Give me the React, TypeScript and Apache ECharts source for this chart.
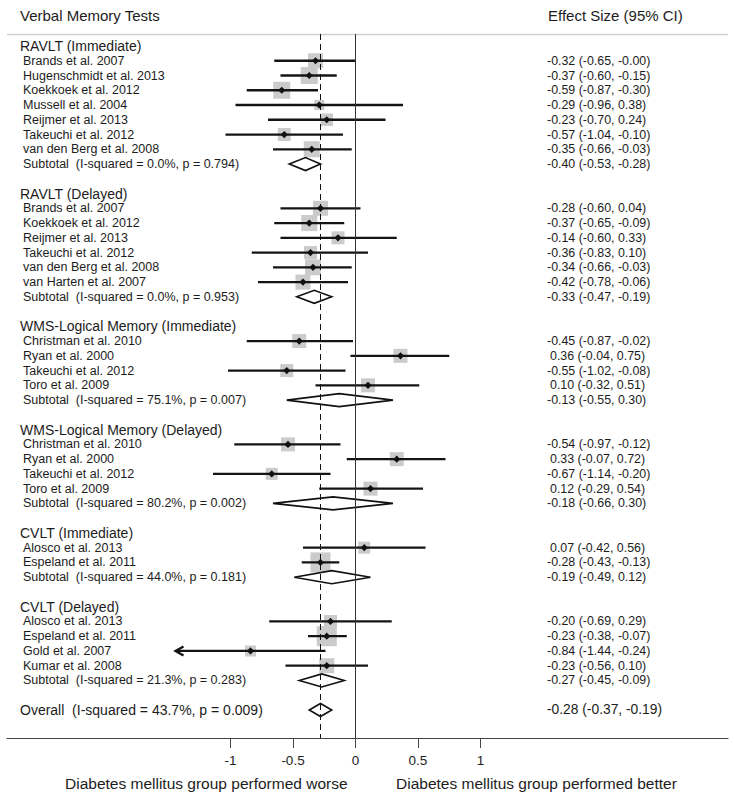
import React, { useEffect, useRef } from "react";
import * as echarts from "echarts";

const columnTitle = "Verbal Memory Tests";
const effectTitle = "Effect Size (95% CI)";
const worseLabel = "Diabetes mellitus group performed worse";
const betterLabel = "Diabetes mellitus group performed better";

const sectionNames = [
  "RAVLT (Immediate)",
  "RAVLT (Delayed)",
  "WMS-Logical Memory (Immediate)",
  "WMS-Logical Memory (Delayed)",
  "CVLT (Immediate)",
  "CVLT (Delayed)",
];

const studyNames: string[][] = [
  ["Brands et al. 2007", "Hugenschmidt et al. 2013", "Koekkoek et al. 2012", "Mussell et al. 2004", "Reijmer et al. 2013", "Takeuchi et al. 2012", "van den Berg et al. 2008"],
  ["Brands et al. 2007", "Koekkoek et al. 2012", "Reijmer et al. 2013", "Takeuchi et al. 2012", "van den Berg et al. 2008", "van Harten et al. 2007"],
  ["Christman et al. 2010", "Ryan et al. 2000", "Takeuchi et al. 2012", "Toro et al. 2009"],
  ["Christman et al. 2010", "Ryan et al. 2000", "Takeuchi et al. 2012", "Toro et al. 2009"],
  ["Alosco et al. 2013", "Espeland et al. 2011"],
  ["Alosco et al. 2013", "Espeland et al. 2011", "Gold et al. 2007", "Kumar et al. 2008"],
];

const studyEstimates: number[][] = [
  [-0.32, -0.37, -0.59, -0.29, -0.23, -0.57, -0.35],
  [-0.28, -0.37, -0.14, -0.36, -0.34, -0.42],
  [-0.45, 0.36, -0.55, 0.10],
  [-0.54, 0.33, -0.67, 0.12],
  [0.07, -0.28],
  [-0.20, -0.23, -0.84, -0.23],
];

const studyLower: number[][] = [
  [-0.65, -0.60, -0.87, -0.96, -0.70, -1.04, -0.66],
  [-0.60, -0.65, -0.60, -0.83, -0.66, -0.78],
  [-0.87, -0.04, -1.02, -0.32],
  [-0.97, -0.07, -1.14, -0.29],
  [-0.42, -0.43],
  [-0.69, -0.38, -1.44, -0.56],
];

const studyUpper: number[][] = [
  [-0.004, -0.15, -0.30, 0.38, 0.24, -0.10, -0.03],
  [0.04, -0.09, 0.33, 0.10, -0.03, -0.06],
  [-0.02, 0.75, -0.08, 0.51],
  [-0.12, 0.72, -0.20, 0.54],
  [0.56, -0.13],
  [0.29, -0.07, -0.24, 0.10],
];

// relative study weights (%)
const studyWeights: number[][] = [
  [18.4, 23.6, 23.6, 8.2, 12.8, 13.8, 20.9],
  [18.4, 20.9, 13.8, 13.8, 20.9, 18.4],
  [16.0, 16.0, 13.8, 16.0],
  [16.0, 16.0, 11.8, 16.0],
  [11.8, 32.7],
  [13.8, 32.7, 9.9, 18.4],
];

const subtotalEstimates = [-0.40, -0.33, -0.13, -0.18, -0.19, -0.27];
const subtotalLower = [-0.53, -0.47, -0.55, -0.66, -0.49, -0.45];
const subtotalUpper = [-0.28, -0.19, 0.30, 0.30, 0.12, -0.09];
const subtotalISquared = [0.0, 0.0, 75.1, 80.2, 44.0, 21.3];
const subtotalP = [0.794, 0.953, 0.007, 0.002, 0.181, 0.283];

const overallEstimate = -0.28;
const overallLower = -0.37;
const overallUpper = -0.19;
const overallISquared = 43.7;
const overallP = 0.009;

const tickValues = [-1, -0.5, 0, 0.5, 1];
const arrowLimit = -1.4;

type Row = {
  row: number;
  kind: "section" | "study" | "subtotal" | "overall";
  label: string;
  est?: number;
  lo?: number;
  hi?: number;
  w?: number;
};

const rows: Row[] = [];
(() => {
  let r = 0;
  sectionNames.forEach((name, s) => {
    rows.push({ row: r++, kind: "section", label: name });
    studyNames[s].forEach((n, i) => {
      rows.push({
        row: r++,
        kind: "study",
        label: n,
        est: studyEstimates[s][i],
        lo: studyLower[s][i],
        hi: studyUpper[s][i],
        w: studyWeights[s][i],
      });
    });
    rows.push({
      row: r++,
      kind: "subtotal",
      label: `Subtotal\u00a0\u00a0(I-squared = ${subtotalISquared[s].toFixed(1)}%, p = ${subtotalP[s].toFixed(3)})`,
      est: subtotalEstimates[s],
      lo: subtotalLower[s],
      hi: subtotalUpper[s],
    });
    r++;
  });
  rows.push({
    row: r,
    kind: "overall",
    label: `Overall\u00a0\u00a0(I-squared = ${overallISquared.toFixed(1)}%, p = ${overallP.toFixed(3)})`,
    est: overallEstimate,
    lo: overallLower,
    hi: overallUpper,
  });
})();

const FONT = '"Liberation Sans", Arial, Helvetica, sans-serif';
const TEXT = "#1c1c1c";
const fmt = (v: number) => v.toFixed(2);

export default function App() {
  const ref = useRef<HTMLDivElement>(null);

  useEffect(() => {
    if (!ref.current) return;
    const chart = echarts.init(ref.current, null, { renderer: "svg" });

    const studyRows = rows.filter((r) => r.kind === "study");
    const diamondRows = rows.filter((r) => r.kind === "subtotal" || r.kind === "overall");

    const option: any = {
      animation: false,
      backgroundColor: "#ffffff",
      grid: { left: 7, right: 6, top: 34, bottom: 60, containLabel: false },
      xAxis: {
        type: "value",
        min: -2.788,
        max: 2.98,
        splitLine: { show: false },
        axisLine: { show: true, onZero: false, lineStyle: { color: "#444", width: 1.2 } },
        axisTick: {
          show: true,
          customValues: tickValues,
          length: 10,
          lineStyle: { color: "#444", width: 1 },
        },
        axisLabel: {
          show: true,
          customValues: tickValues,
          margin: 15,
          color: TEXT,
          fontSize: 13.5,
          fontFamily: FONT,
          formatter: (v: number) => String(v),
        },
      },
      yAxis: {
        type: "value",
        min: -0.813,
        max: 46.9,
        inverse: true,
        show: false,
      },
      graphic: [
        {
          type: "line",
          shape: { x1: 7, y1: 34.5, x2: 728, y2: 34.5 },
          style: { stroke: "#cfcfcf", lineWidth: 1.5 },
          silent: true,
        },
        {
          type: "text",
          style: {
            text: columnTitle, x: 20, y: 15, font: `15px ${FONT}`, fill: TEXT,
            textAlign: "left", textVerticalAlign: "middle", verticalAlign: "middle",
          },
        },
        {
          type: "text",
          style: {
            text: effectTitle, x: 548, y: 15, font: `15px ${FONT}`, fill: TEXT,
            textAlign: "left", textVerticalAlign: "middle", verticalAlign: "middle",
          },
        },
        {
          type: "text",
          style: {
            text: worseLabel, x: 65, y: 783, font: `15.5px ${FONT}`, fill: TEXT,
            textAlign: "left", textVerticalAlign: "middle", verticalAlign: "middle",
          },
        },
        {
          type: "text",
          style: {
            text: betterLabel, x: 396, y: 783, font: `15.5px ${FONT}`, fill: TEXT,
            textAlign: "left", textVerticalAlign: "middle", verticalAlign: "middle",
          },
        },
      ],
      series: [
        {
          type: "custom",
          name: "studies",
          encode: { x: [0, 1, 2], y: 3 },
          data: studyRows.map((r) => [r.est, r.lo, r.hi, r.row, r.w]),
          renderItem: (params: any, api: any) => {
            const est = api.value(0);
            const lo = api.value(1);
            const hi = api.value(2);
            const row = api.value(3);
            const w = api.value(4);
            const pe = api.coord([est, row]);
            const pl = api.coord([lo, row]);
            const ph = api.coord([hi, row]);
            const y = pe[1];
            const side = 3.5 * Math.sqrt(w);
            const children: any[] = [
              {
                type: "rect",
                shape: { x: pe[0] - side / 2, y: y - side / 2, width: side, height: side },
                style: { fill: "#cbcbcb" },
              },
              {
                type: "line",
                shape: { x1: pl[0], y1: y, x2: ph[0], y2: y },
                style: { stroke: "#141414", lineWidth: 2.3 },
              },
              {
                type: "polygon",
                shape: {
                  points: [
                    [pe[0] - 3.6, y],
                    [pe[0], y - 3.6],
                    [pe[0] + 3.6, y],
                    [pe[0], y + 3.6],
                  ],
                },
                style: { fill: "#111" },
              },
            ];
            if (lo < arrowLimit) {
              children.push({
                type: "polyline",
                shape: {
                  points: [
                    [pl[0] + 8, y - 4.5],
                    [pl[0], y],
                    [pl[0] + 8, y + 4.5],
                  ],
                },
                style: { stroke: "#141414", lineWidth: 2.3, fill: "none" },
              });
            }
            return { type: "group", children };
          },
          markLine: {
            silent: true,
            symbol: ["none", "none"],
            label: { show: false },
            animation: false,
            data: [
              { xAxis: 0, lineStyle: { color: "#333", width: 1, type: "solid" } },
              { xAxis: overallEstimate, lineStyle: { color: "#111", width: 1, type: [6, 4] } },
            ],
          },
          z: 3,
        },
        {
          type: "custom",
          name: "pooled",
          encode: { x: [0, 1, 2], y: 3 },
          data: diamondRows.map((r) => [r.est, r.lo, r.hi, r.row]),
          renderItem: (params: any, api: any) => {
            const row = api.value(3);
            const pe = api.coord([api.value(0), row]);
            const pl = api.coord([api.value(1), row]);
            const ph = api.coord([api.value(2), row]);
            const y = pe[1];
            const h = 6.5;
            return {
              type: "polygon",
              shape: {
                points: [
                  [pl[0], y],
                  [pe[0], y - h],
                  [ph[0], y],
                  [pe[0], y + h],
                ],
              },
              style: { fill: "#fff", stroke: "#111", lineWidth: 1.6 },
            };
          },
          z: 4,
        },
        {
          type: "custom",
          name: "labels",
          encode: { x: 0, y: 1 },
          data: rows.map((r) => [0, r.row]),
          clip: false,
          renderItem: (params: any, api: any) => {
            const r = rows[params.dataIndex];
            const y = api.coord([0, api.value(1)])[1];
            const big = r.kind === "section" || r.kind === "overall";
            const lx = r.kind === "section" || r.kind === "overall" ? 20 : 23;
            const children: any[] = [
              {
                type: "text",
                style: {
                  text: r.label,
                  x: lx,
                  y,
                  font: `${big ? 14 : 12.5}px ${FONT}`,
                  fill: TEXT,
                  textAlign: "left",
                  textVerticalAlign: "middle",
                  verticalAlign: "middle",
                },
              },
            ];
            if (r.kind !== "section") {
              const ci = `${fmt(r.est!)} (${fmt(r.lo!)}, ${fmt(r.hi!)})`;
              children.push({
                type: "text",
                style: {
                  text: ci,
                  x: r.est! >= 0 ? 550 : 547,
                  y,
                  font: `${r.kind === "overall" ? 13.8 : 12.4}px ${FONT}`,
                  fill: TEXT,
                  textAlign: "left",
                  textVerticalAlign: "middle",
                  verticalAlign: "middle",
                },
              });
            }
            return { type: "group", children };
          },
          z: 5,
        },
      ],
    };

    chart.setOption(option);
    return () => chart.dispose();
  }, []);

  return (
    <div
      ref={ref}
      style={{ position: "absolute", left: 0, top: 0, width: 734, height: 798, background: "#fff" }}
    />
  );
}
